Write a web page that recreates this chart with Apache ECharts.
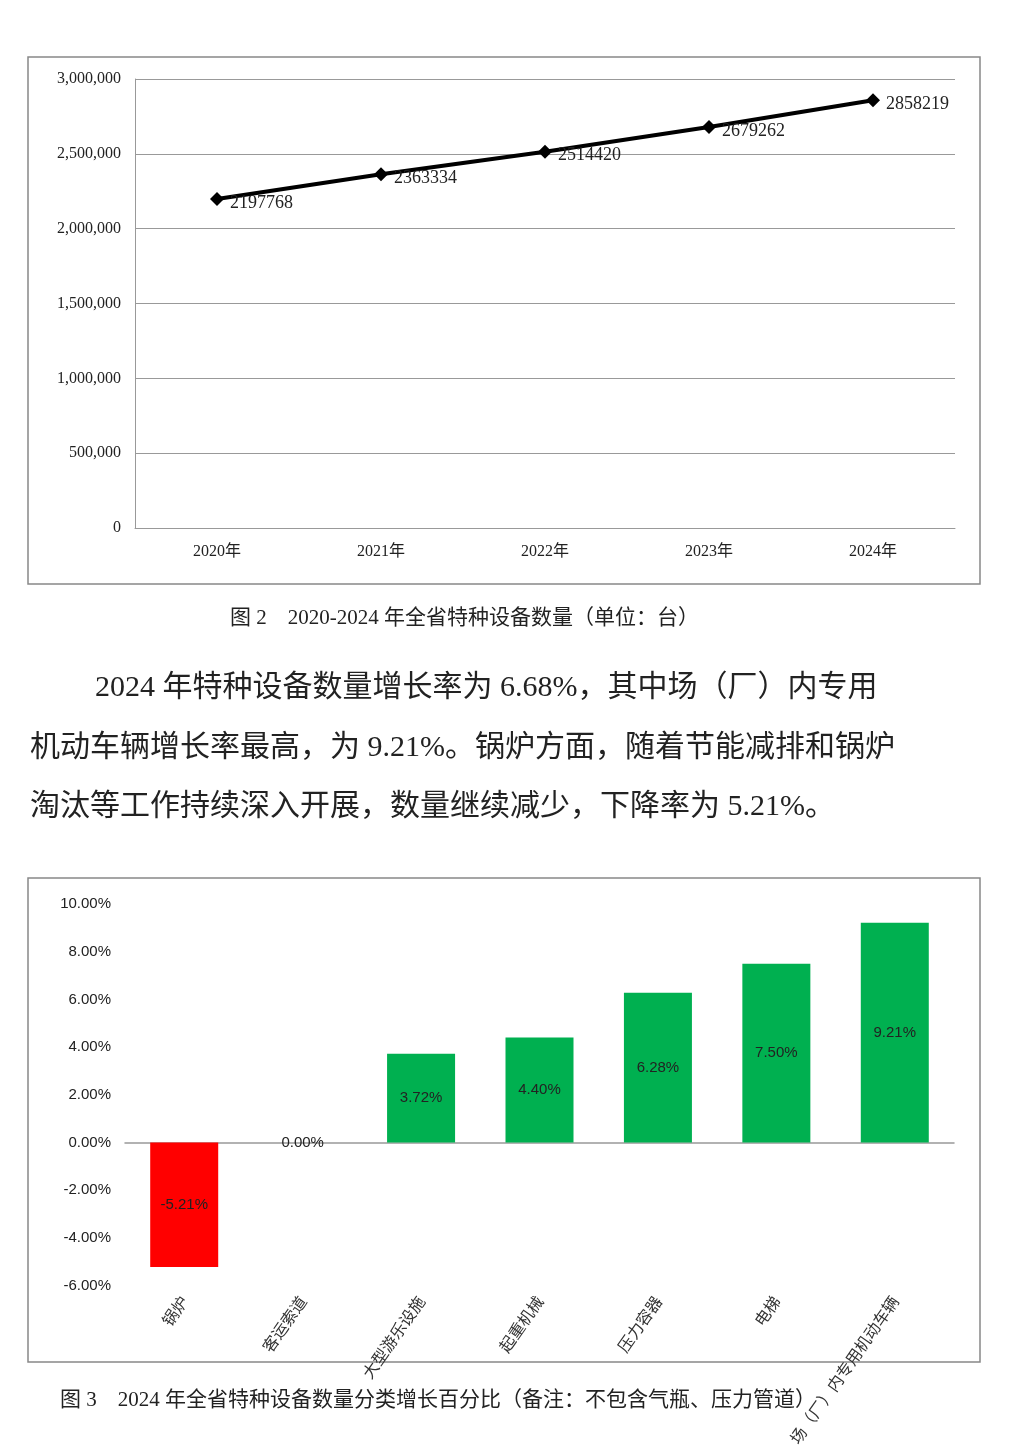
<!DOCTYPE html>
<html><head><meta charset="utf-8">
<script src="https://cdn.jsdelivr.net/npm/echarts@6/dist/echarts.min.js"></script>
<style>html,body{margin:0;padding:0;background:#fff}#c{width:1015px;height:1449px}</style>
</head><body><div id="c"></div>
<script>
const years = ['2020年','2021年','2022年','2023年','2024年'];
const counts = [2197768, 2363334, 2514420, 2679262, 2858219];
const cats = ['锅炉','客运索道','大型游乐设施','起重机械','压力容器','电梯','场（厂）内专用机动车辆'];
const growth = [-5.21, 0.00, 3.72, 4.40, 6.28, 7.50, 9.21];
const serif = '"Liberation Serif","Noto Sans CJK SC",serif';
const cjk = '"Liberation Serif","Noto Sans CJK SC",sans-serif';
const chart = echarts.init(document.getElementById('c'));
chart.setOption({
  backgroundColor:'#fff',
  animation:false,
  grid:[
    {left:135,top:79,width:820,height:449},
    {left:125,top:904,width:829,height:400}
  ],
  xAxis:[
    {type:'category',gridIndex:0,data:years,boundaryGap:true,
     axisLine:{lineStyle:{color:'#999'}},axisTick:{show:false},
     axisLabel:{color:'#222',fontSize:16,fontFamily:cjk,margin:16}},
    {type:'category',gridIndex:1,data:cats,position:'bottom',
     axisLine:{onZero:true,lineStyle:{color:'#999',width:1.5}},axisTick:{show:false},
     axisLabel:{color:'#333',fontSize:16,fontFamily:'"Noto Sans CJK SC",sans-serif',rotate:55,margin:12,interval:0}}
  ],
  yAxis:[
    {type:'value',gridIndex:0,min:0,max:3000000,interval:500000,
     axisLine:{show:true,lineStyle:{color:'#999'}},axisTick:{show:false},
     splitLine:{lineStyle:{color:'#999'}},
     axisLabel:{color:'#222',fontSize:16,fontFamily:serif,margin:14}},
    {type:'value',gridIndex:1,min:-6,max:10,interval:2,
     axisLine:{show:false},axisTick:{show:false},splitLine:{show:false},
     axisLabel:{color:'#222',fontSize:15,fontFamily:'"Liberation Sans",sans-serif',margin:14,
       formatter:v=>v.toFixed(2)+'%'}}
  ],
  series:[
    {type:'line',xAxisIndex:0,yAxisIndex:0,data:counts,symbol:'diamond',symbolSize:14,
     lineStyle:{color:'#000',width:4},itemStyle:{color:'#000'},
     label:{show:true,position:'right',distance:6,color:'#222',fontSize:18,fontFamily:serif,offset:[0,4]}},
    {type:'bar',xAxisIndex:1,yAxisIndex:1,data:growth.map((v,i)=>({value:v,itemStyle:{color:v<0?'#ff0000':'#00b050'}})),
     barWidth:68,
     label:{show:true,position:'inside',color:'#222',fontSize:15,fontFamily:'"Liberation Sans",sans-serif',
       formatter:p=>p.value.toFixed(2)+'%'}}
  ],
  graphic:[
    {type:'rect',shape:{x:28,y:57,width:952,height:527},style:{fill:'none',stroke:'#888',lineWidth:1.5}},
    {type:'rect',shape:{x:28,y:878,width:952,height:484},style:{fill:'none',stroke:'#888',lineWidth:1.5}},
    {type:'text',x:230,y:608,style:{text:'图 2    2020-2024 年全省特种设备数量（单位：台）',fontSize:21,fontFamily:cjk,fill:'#222'}},
    {type:'text',x:95,y:673,style:{text:'2024 年特种设备数量增长率为 6.68%，其中场（厂）内专用',fontSize:30,fontFamily:cjk,fill:'#222'}},
    {type:'text',x:30,y:733,style:{text:'机动车辆增长率最高，为 9.21%。锅炉方面，随着节能减排和锅炉',fontSize:30,fontFamily:cjk,fill:'#222'}},
    {type:'text',x:30,y:792,style:{text:'淘汰等工作持续深入开展，数量继续减少，下降率为 5.21%。',fontSize:30,fontFamily:cjk,fill:'#222'}},
    {type:'text',x:60,y:1390,style:{text:'图 3    2024 年全省特种设备数量分类增长百分比（备注：不包含气瓶、压力管道）',fontSize:21,fontFamily:cjk,fill:'#222'}}
  ]
});
</script></body></html>
